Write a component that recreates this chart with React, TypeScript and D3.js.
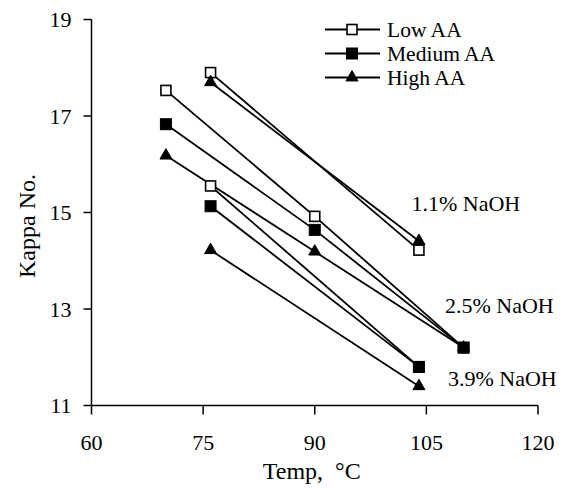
import React from "react";
import * as d3 from "d3";

type Pt = [number, number];

// Series values: [temperature °C, kappa number], one segment per NaOH charge
const lowAA: Pt[][] = [
  [[76, 17.9], [104, 14.22]],
  [[70, 17.53], [90, 14.92], [110, 12.2]],
  [[76, 15.55], [104, 11.8]],
];
const mediumAA: Pt[][] = [
  [[70, 16.83], [90, 14.64], [110, 12.2]],
  [[76, 15.13], [104, 11.8]],
];
const highAA: Pt[][] = [
  [[76, 17.7], [104, 14.41]],
  [[70, 16.18], [90, 14.19], [110, 12.2]],
  [[76, 14.22], [104, 11.4]],
];

const seriesNames = ["Low AA", "Medium AA", "High AA"];
const xTicks = [60, 75, 90, 105, 120];
const yTicks = [11, 13, 15, 17, 19];
const naohLabels = ["1.1% NaOH", "2.5% NaOH", "3.9% NaOH"];
const naohLabelPos: Pt[] = [[103, 15.04], [107.5, 12.91], [107.9, 11.4]];

const FONT = "'Liberation Serif', 'Times New Roman', serif";

function Marker({ kind, x, y }: { kind: string; x: number; y: number }) {
  if (kind === "Low AA")
    return <rect x={x - 5} y={y - 5} width={10} height={10} fill="#fff" stroke="#000" strokeWidth={1.6} />;
  if (kind === "Medium AA")
    return <rect x={x - 5.5} y={y - 5.5} width={11} height={11} fill="#000" stroke="#000" strokeWidth={1} />;
  const s = d3.symbol().type(d3.symbolTriangle).size(62)();
  return <path d={s as string} transform={`translate(${x},${y})`} fill="#000" stroke="#000" strokeWidth={1} />;
}

export default function App() {
  const W = 574, H = 489;
  const x = d3.scaleLinear().domain([60, 120]).range([91.5, 538]);
  const y = d3.scaleLinear().domain([11, 19]).range([405.5, 19.5]);
  const line = d3.line<Pt>().x((d) => x(d[0])).y((d) => y(d[1]));
  const all: [string, Pt[][]][] = [
    ["Low AA", lowAA],
    ["Medium AA", mediumAA],
    ["High AA", highAA],
  ];
  const x0 = x(60), x1 = x(120), yb = y(11), yt = y(19);
  const legendY = [29.5, 53.5, 77.5];

  return (
    <svg width={W} height={H} style={{ position: "absolute", left: 0, top: 0, background: "#fff" }} fontFamily={FONT}>
      <rect width={W} height={H} fill="#fff" />
      {/* axes */}
      <line x1={x0} x2={x0} y1={yt} y2={yb} stroke="#000" strokeWidth={1.5} />
      <line x1={x0} x2={x1} y1={yb} y2={yb} stroke="#000" strokeWidth={1.5} />
      {yTicks.map((t) => (
        <g key={"y" + t}>
          <line x1={x0 - 8} x2={x0} y1={y(t)} y2={y(t)} stroke="#000" strokeWidth={1.5} />
          <text x={x0 - 20} y={y(t)} dy="0.35em" textAnchor="end" fontSize={22}>{t}</text>
        </g>
      ))}
      {xTicks.map((t) => (
        <g key={"x" + t}>
          <line x1={x(t)} x2={x(t)} y1={yb} y2={yb + 9} stroke="#000" strokeWidth={1.5} />
          <text x={x(t)} y={yb + 44} textAnchor="middle" fontSize={22}>{t}</text>
        </g>
      ))}
      <text x={x(90) - 3} y={479} textAnchor="middle" fontSize={24}>{"Temp,\u00a0\u00a0°C"}</text>
      <text transform={`translate(35,226) rotate(-90)`} textAnchor="middle" fontSize={24}>Kappa No.</text>

      {/* lines */}
      {all.map(([name, segs]) =>
        segs.map((seg, i) => (
          <path key={name + i} d={line(seg) as string} fill="none" stroke="#000" strokeWidth={1.8} />
        ))
      )}
      {/* markers */}
      {all.map(([name, segs]) =>
        segs.map((seg, i) => seg.map((p, j) => <Marker key={name + i + "-" + j} kind={name} x={x(p[0])} y={y(p[1])} />))
      )}

      {/* NaOH labels */}
      {naohLabels.map((l, i) => (
        <text key={l} x={x(naohLabelPos[i][0])} y={y(naohLabelPos[i][1])} fontSize={22}>{l}</text>
      ))}

      {/* legend */}
      {seriesNames.map((n, i) => (
        <g key={n}>
          <line x1={325} x2={380} y1={legendY[i]} y2={legendY[i]} stroke="#000" strokeWidth={1.8} />
          <Marker kind={n} x={352} y={legendY[i]} />
          <text x={387} y={legendY[i] + 7} fontSize={21.5}>{n}</text>
        </g>
      ))}
    </svg>
  );
}
